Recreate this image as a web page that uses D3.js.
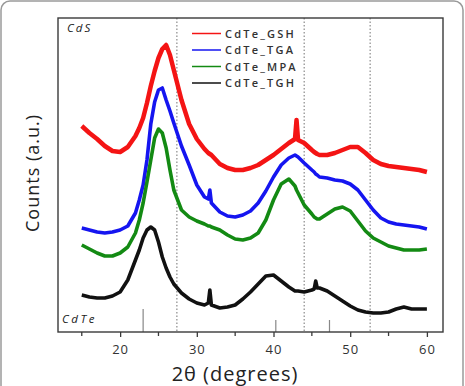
<!DOCTYPE html>
<html>
<head>
<meta charset="utf-8">
<script src="https://cdn.jsdelivr.net/npm/d3@7"></script>
<style>
  body { margin: 0; background: #fff; }
  text { font-family: "Open Sans", sans-serif; }
</style>
</head>
<body>
<script>
// 2theta sampling grid (degrees)
var theta = [15, 16, 17, 18, 19, 20, 21, 22, 22.5, 23, 23.5, 24, 24.5, 25, 25.5, 26, 26.5, 27, 28, 29,
  30, 31, 31.5, 31.7, 31.9, 33, 34, 35, 36, 37, 38, 39, 40, 41, 42, 42.8, 43, 43.2, 44, 45,
  45.3, 45.5, 45.7, 46, 47, 48, 49, 50, 51, 52, 53, 54, 55, 56, 57, 58, 59, 60];

// counts (a.u.), stacked with offsets as in the figure
var gsh = [206, 199, 193, 186, 181, 180, 185, 196, 204, 214, 229, 246, 261, 274, 283, 287, 277, 262, 232, 208,
  193, 183, 179, 178, 177, 168, 164, 162, 162, 164, 167, 172, 177, 183, 189, 193, 212, 192, 189, 182,
  180, 179, 178, 177, 177, 179, 182, 185, 185, 179, 172, 168, 166, 165, 164, 163, 162, 160];
var tga = [104, 102, 100, 99, 100, 102, 106, 119, 132, 147, 172, 208, 230, 242, 244, 232, 221, 209, 186, 167,
  147, 135, 133, 142, 129, 120, 116, 115, 117, 121, 129, 141, 155, 167, 174, 177, 176, 175, 169, 162,
  160, 158, 157, 155, 154, 152, 151, 148, 142, 132, 122, 114, 110, 108, 107, 106, 105, 103];
var mpa = [87, 83, 79, 76, 76, 79, 85, 99, 112, 129, 150, 172, 194, 203, 199, 184, 162, 142, 122, 115,
  111, 108, 106, 106, 105, 102, 97, 93, 92, 94, 99, 112, 132, 148, 153, 146, 142, 139, 127, 118,
  115, 114, 113, 113, 118, 123, 125, 121, 111, 101, 94, 90, 86, 84, 82, 82, 82, 83];
var tgh = [37, 35, 34, 34, 36, 40, 52, 72, 82, 94, 102, 105, 102, 90, 75, 64, 55, 48, 39, 33,
  29, 27, 29, 42, 27, 24, 25, 27, 33, 40, 48, 56, 57, 51, 45, 41, 41, 41, 40, 42,
  43, 51, 44, 44, 41, 36, 31, 26, 22, 20, 19, 19, 20, 23, 25, 23, 23, 23];

var seriesNames = ["CdTe_GSH", "CdTe_TGA", "CdTe_MPA", "CdTe_TGH"];
var seriesColors = ["#f41414", "#1515f0", "#138a13", "#111111"];

// reference positions
var cdsLines = [27.4, 44.0, 52.6];
var cdteTheta = [23.0, 40.3, 47.3];
var cdteHeight = [23, 12, 12];

var xTicks = [20, 30, 40, 50, 60];
var xMinor = [15, 25, 35, 45, 55];

var W = 465, H = 386;
var margin = {top: 18, right: 22, bottom: 54, left: 58};
var width = W - margin.left - margin.right;
var height = H - margin.top - margin.bottom;

var svg = d3.select("body").append("svg")
  .attr("width", W)
  .attr("height", H);

// card border
svg.append("rect")
  .attr("x", 1).attr("y", 1)
  .attr("width", W - 3).attr("height", H + 20)
  .attr("rx", 9)
  .attr("fill", "none")
  .attr("stroke", "#9a9a9a")
  .attr("stroke-width", 1.5);

var g = svg.append("g")
  .attr("transform", `translate(${margin.left}, ${margin.top})`);

var x = d3.scaleLinear().domain([11.9, 62.1]).range([0, width]);
var y = d3.scaleLinear().domain([0, 314]).range([height, 0]);

// dotted CdS lines
g.selectAll(".cds")
  .data(cdsLines)
  .enter()
  .append("line")
  .attr("x1", d => x(d)).attr("x2", d => x(d))
  .attr("y1", 0).attr("y2", height)
  .attr("stroke", "#8a8a8a")
  .attr("stroke-width", 1.2)
  .attr("stroke-dasharray", "1.5,2");

// CdTe reference sticks
g.selectAll(".cdte")
  .data(cdteTheta)
  .enter()
  .append("line")
  .attr("x1", d => x(d)).attr("x2", d => x(d))
  .attr("y1", (d, i) => height - cdteHeight[i]).attr("y2", height)
  .attr("stroke", "#888")
  .attr("stroke-width", 1.2);

var line = d3.line()
  .x((d, i) => x(theta[i]))
  .y(d => y(d));

var allSeries = [gsh, tga, mpa, tgh];
var widths = [4.5, 3.6, 3.6, 3.6];
allSeries.forEach(function(s, i) {
  g.append("path")
    .datum(s)
    .attr("d", line)
    .attr("fill", "none")
    .attr("stroke", seriesColors[i])
    .attr("stroke-width", widths[i])
    .attr("stroke-linejoin", "round");
});

// frame
g.append("rect")
  .attr("width", width).attr("height", height)
  .attr("fill", "none")
  .attr("stroke", "#3a3a3a")
  .attr("stroke-width", 1.4);

// bottom axis
var xAxis = g.append("g")
  .attr("transform", `translate(0, ${height})`)
  .call(d3.axisBottom(x).tickValues(xTicks).tickSize(5).tickPadding(8));
xAxis.select(".domain").remove();
xAxis.selectAll("line").attr("stroke", "#3a3a3a").attr("stroke-width", 1.3);
xAxis.selectAll("text")
  .attr("font-size", "13px")
  .attr("fill", "#333")
  .attr("letter-spacing", "1px");

g.append("g")
  .attr("transform", `translate(0, ${height})`)
  .selectAll("line")
  .data(xMinor)
  .enter()
  .append("line")
  .attr("x1", d => x(d)).attr("x2", d => x(d))
  .attr("y1", 0).attr("y2", 4)
  .attr("stroke", "#3a3a3a")
  .attr("stroke-width", 1.3);

// legend
var legend = g.append("g")
  .attr("transform", `translate(${192 - margin.left}, ${33.5 - margin.top})`);
seriesNames.forEach(function(name, i) {
  legend.append("line")
    .attr("x1", 0).attr("x2", 29)
    .attr("y1", i * 16.5).attr("y2", i * 16.5)
    .attr("stroke", seriesColors[i])
    .attr("stroke-width", 1.5);
  legend.append("text")
    .attr("x", 33)
    .attr("y", i * 16.5 + 4)
    .attr("font-size", "11px")
    .attr("font-weight", 600)
    .attr("letter-spacing", "2.2px")
    .attr("fill", "#333")
    .text(name);
});

// phase labels
g.append("text")
  .attr("x", 9).attr("y", 14)
  .attr("font-size", "11.5px")
  .attr("font-style", "italic")
  .attr("letter-spacing", "2px")
  .attr("fill", "#222")
  .text("CdS");

g.append("text")
  .attr("x", 4).attr("y", height - 9)
  .attr("font-size", "11.5px")
  .attr("font-style", "italic")
  .attr("letter-spacing", "2.5px")
  .attr("fill", "#222")
  .text("CdTe");

// axis titles
svg.append("text")
  .attr("transform", `translate(39, ${margin.top + 155}) rotate(-90)`)
  .attr("text-anchor", "middle")
  .attr("font-size", "18px")
  .attr("letter-spacing", "1px")
  .attr("fill", "#222")
  .text("Counts (a.u.)");

svg.append("text")
  .attr("x", 235).attr("y", 381)
  .attr("text-anchor", "middle")
  .attr("font-size", "20px")
  .attr("letter-spacing", "1px")
  .attr("fill", "#222")
  .text("2θ (degrees)");
</script>
</body>
</html>
